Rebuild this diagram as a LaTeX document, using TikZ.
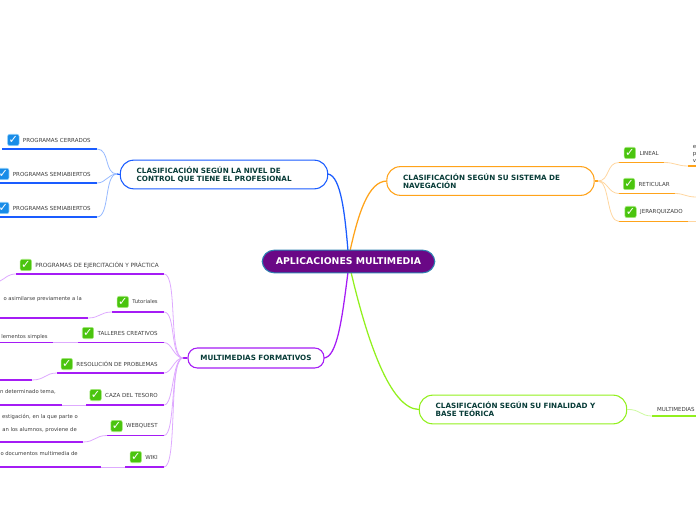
\documentclass[tikz,border=0pt]{standalone}
\usepackage{fontspec}
\setmainfont{DejaVu Sans}
\usetikzlibrary{positioning}
\definecolor{rootpurple}{RGB}{106,8,134}
\definecolor{rootblue}{RGB}{44,128,176}
\definecolor{titlegreen}{RGB}{8,60,56}
\definecolor{leafgrey}{RGB}{60,60,60}
\definecolor{netblue}{RGB}{26,92,255}
\definecolor{softnetblue}{RGB}{150,185,255}
\definecolor{navorange}{RGB}{255,163,26}
\definecolor{softorange}{RGB}{255,214,160}
\definecolor{formpurple}{RGB}{165,28,245}
\definecolor{softpurple}{RGB}{222,170,255}
\definecolor{basegreen}{RGB}{146,240,30}
\definecolor{softgreen}{RGB}{205,250,160}
\definecolor{tickgreen}{RGB}{74,196,14}
\definecolor{tickrim}{RGB}{170,235,130}
\definecolor{tickblue}{RGB}{24,140,232}
\definecolor{tickbluerim}{RGB}{140,205,250}
\tikzset{
  rootbox/.style={draw=rootblue,thick,fill=rootpurple,rounded corners=9pt,text=white,
    font=\fontsize{7}{8.5}\selectfont\bfseries,minimum width=129.5pt,minimum height=17pt,inner sep=0pt},
  branchbox/.style={thick,fill=white,rounded corners=10pt,text=titlegreen,align=left,
    font=\fontsize{5.4}{6.1}\selectfont\bfseries,inner sep=0pt,text width=131pt,
    minimum height=21.5pt},
  branchleft/.style={branchbox,text width=131pt,minimum width=155.5pt},
  leaflabel/.style={text=leafgrey,font=\fontsize{4.15}{5}\selectfont,inner sep=0pt,anchor=east},
  widelabel/.style={leaflabel,font=\fontsize{4.3}{5}\selectfont},
  narrowlabel/.style={leaflabel,font=\fontsize{3.95}{5}\selectfont},
  cuttext/.style={text=leafgrey,font=\fontsize{4.15}{5.3}\selectfont,inner sep=0pt,anchor=west},
  tickbox/.style={rounded corners=1.6pt,minimum size=8.6pt,inner sep=0pt,text=white,line width=.4pt,
    font=\fontsize{8.5}{8.5}\selectfont\bfseries},
  greentick/.style={tickbox,draw=tickrim,fill=tickgreen},
  bluetick/.style={tickbox,draw=tickbluerim,fill=tickblue},
  rule/.style={line width=1.1pt},
  twig/.style={line width=.6pt},
  trunk/.style={line width=.95pt}
}
\begin{document}
\begin{tikzpicture}[x=.75pt,y=-.75pt]
  \useasboundingbox (0,0) rectangle (696,520);
  % links out of the centre
  \coordinate (rootnw) at (348,251);
  \coordinate (rootne) at (350,251);
  \coordinate (rootsw) at (348,272);
  \coordinate (rootse) at (351,272);
  \coordinate (controlin) at (328,174);
  \coordinate (navin) at (387,181);
  \coordinate (formin) at (324,358);
  \coordinate (basein) at (419,409.5);
  \draw[trunk,netblue] (rootnw) .. controls (345,215) and (341,176) .. (controlin);
  \draw[trunk,navorange] (rootne) .. controls (358,215) and (368,181) .. (navin);
  \draw[trunk,formpurple] (rootsw) .. controls (342,320) and (337,357) .. (formin);
  \draw[trunk,basegreen] (rootse) .. controls (367,340) and (390,409) .. (basein);

  \node[rootbox] (root) at (348.5,261.5) {APLICACIONES MULTIMEDIA};
  \node[branchleft,draw=netblue] (control) at (224,174.5)
    {CLASIFICACIÓN SEGÚN LA NIVEL DE\\CONTROL QUE TIENE EL PROFESIONAL};
  \node[branchleft,draw=navorange] (nav) at (490.5,181)
    {CLASIFICACIÓN SEGÚN SU SISTEMA DE\\NAVEGACIÓN};
  \node[branchbox,draw=formpurple,text width=,align=center,minimum width=102pt,minimum height=15pt,rounded corners=7pt] (form) at (256,358)
    {MULTIMEDIAS FORMATIVOS};
  \node[branchleft,draw=basegreen] (base) at (523,409.5)
    {CLASIFICACIÓN SEGÚN SU FINALIDAD Y\\BASE TEÓRICA};

  % control leaves
  \coordinate (controlhub) at (117,174);
  \draw[trunk,netblue] (control.west) -- (controlhub);
  \node[leaflabel] (cerrados) at (91,140) {PROGRAMAS CERRADOS};
  \node[bluetick,left=2.5pt of cerrados] (cerradostick) {✓};
  \node[leaflabel] (semia) at (91,174) {PROGRAMAS SEMIABIERTOS};
  \node[bluetick,left=2.5pt of semia] (semiatick) {✓};
  \node[leaflabel] (semib) at (91,208) {PROGRAMAS SEMIABIERTOS};
  \node[bluetick,left=2.5pt of semib] (semibtick) {✓};
  \coordinate (cerradosL) at (2,149);
  \coordinate (cerradosR) at (97,149);
  \coordinate (semiaL) at (0,183);
  \coordinate (semiaR) at (97,183);
  \coordinate (semibL) at (0,217);
  \coordinate (semibR) at (97,217);
  \draw[rule,netblue] (cerradosL) -- (cerradosR);
  \draw[rule,netblue] (semiaL) -- (semiaR);
  \draw[rule,netblue] (semibL) -- (semibR);
  \draw[twig,softnetblue] (cerradosR) .. controls (110,149) and (104,174) .. (controlhub);
  \draw[twig,softnetblue] (semiaR) .. controls (106,183) and (108,174) .. (controlhub);
  \draw[twig,softnetblue] (semibR) .. controls (110,217) and (104,174) .. (controlhub);

  % navigation leaves
  \coordinate (navhub) at (598,181);
  \draw[trunk,navorange] (nav.east) -- (navhub);
  \node[leaflabel] (lineal) at (659,153) {LINEAL};
  \node[greentick,left=2.5pt of lineal] (linealtick) {✓};
  \node[leaflabel] (reticular) at (670,184) {RETICULAR};
  \node[greentick,left=2.5pt of reticular] (reticulartick) {✓};
  \node[leaflabel] (jerarq) at (683,212) {JERARQUIZADO};
  \node[greentick,left=2.5pt of jerarq] (jerarqtick) {✓};
  \node[cuttext] (linealcut) at (692.5,154) {\begin{tabular}{@{}l@{}}e\\p\\v\end{tabular}};
  \coordinate (linealL) at (619,162.5);
  \coordinate (linealR) at (664,162.5);
  \coordinate (linealnext) at (688,166);
  \coordinate (linealend) at (696,166);
  \coordinate (reticularL) at (619,193.5);
  \coordinate (reticularR) at (675,193.5);
  \coordinate (reticularend) at (696,197);
  \coordinate (jerarqL) at (619,221.5);
  \coordinate (jerarqR) at (688,221.5);
  \coordinate (jerarqend) at (696,221.5);
  \draw[rule,navorange] (linealL) -- (linealR);
  \draw[rule,navorange] (linealnext) -- (linealend);
  \draw[rule,navorange] (reticularL) -- (reticularR);
  \draw[rule,navorange] (jerarqL) -- (jerarqR);
  \draw[twig,softorange] (navhub) .. controls (610,181) and (606,162.5) .. (linealL);
  \draw[twig,softorange] (navhub) .. controls (608,181) and (608,193.5) .. (reticularL);
  \draw[twig,softorange] (navhub) .. controls (610,181) and (606,221.5) .. (jerarqL);
  \draw[twig,softorange] (linealR) .. controls (675,162.5) and (677,166) .. (linealnext);
  \draw[twig,softorange] (reticularR) .. controls (684,193.5) and (686,197) .. (reticularend);
  \draw[twig,softorange] (jerarqR) -- (jerarqend);

  % base leaf
  \node[leaflabel] (multi) at (695,409) {MULTIMEDIAS};
  \coordinate (multiL) at (652,416);
  \coordinate (multiR) at (696,416);
  \draw[rule,basegreen] (multiL) -- (multiR);
  \draw[twig,softgreen] (base.east) .. controls (640,409) and (640,416) .. (multiL);

  % formative leaves
  \coordinate (formhub) at (183,358);
  \draw[trunk,formpurple] (form.west) -- (formhub);
  \node[widelabel] (ejerc) at (159,265) {PROGRAMAS DE EJERCITACIÓN Y PRÁCTICA};
  \node[greentick,left=2.5pt of ejerc] (ejerctick) {✓};
  \node[narrowlabel] (tutor) at (158,302) {Tutoriales};
  \node[greentick,left=2.5pt of tutor] (tutortick) {✓};
  \node[leaflabel] (talleres) at (158,333) {TALLERES CREATIVOS};
  \node[greentick,left=2.5pt of talleres] (tallerestick) {✓};
  \node[leaflabel] (resol) at (158,364) {RESOLUCIÓN DE PROBLEMAS};
  \node[greentick,left=2.5pt of resol] (resoltick) {✓};
  \node[leaflabel] (caza) at (158,395) {CAZA DEL TESORO};
  \node[greentick,left=2.5pt of caza] (cazatick) {✓};
  \node[leaflabel] (webq) at (158,426) {WEBQUEST};
  \node[greentick,left=2.5pt of webq] (webqtick) {✓};
  \node[leaflabel] (wiki) at (158,457) {WIKI};
  \node[greentick,left=2.5pt of wiki] (wikitick) {✓};

  \node[narrowlabel] (tutorcut) at (82,299) {o asimilarse previamente a la};
  \node[narrowlabel] (tallerescut) at (48,337) {lementos simples};
  \node[narrowlabel] (cazacut) at (56,392) {n determinado tema,};
  \node[narrowlabel] (webqcuta) at (78,417) {estigación, en la que parte o};
  \node[narrowlabel] (webqcutb) at (77,430) {an los alumnos, proviene de};
  \node[narrowlabel] (wikicut) at (78,454) {o documentos multimedia de};

  \coordinate (ejercL) at (16,274);
  \coordinate (ejercR) at (164,274);
  \coordinate (ejercend) at (0,281);
  \coordinate (tutorL) at (112,312);
  \coordinate (tutorR) at (164,312);
  \coordinate (tutornext) at (88,318);
  \coordinate (tutorend) at (0,318);
  \coordinate (talleresL) at (78,342.5);
  \coordinate (talleresR) at (164,342.5);
  \coordinate (tallerescutR) at (53,342.5);
  \coordinate (tallerescutL) at (0,342.5);
  \coordinate (resolL) at (57,373);
  \coordinate (resolR) at (164,373);
  \coordinate (resolnext) at (32,380);
  \coordinate (resolend) at (0,380);
  \coordinate (cazaL) at (86,405);
  \coordinate (cazaR) at (164,405);
  \coordinate (cazacutR) at (62,405);
  \coordinate (cazacutL) at (0,405);
  \coordinate (webqL) at (107,435.5);
  \coordinate (webqR) at (164,435.5);
  \coordinate (webqnext) at (83,442);
  \coordinate (webqend) at (0,442);
  \coordinate (wikiL) at (125,467);
  \coordinate (wikiR) at (164,467);
  \coordinate (wikicutR) at (101,467);
  \coordinate (wikicutL) at (0,467);

  \draw[rule,formpurple] (ejercL) -- (ejercR);
  \draw[rule,formpurple] (tutorL) -- (tutorR);
  \draw[rule,formpurple] (tutornext) -- (tutorend);
  \draw[rule,formpurple] (talleresL) -- (talleresR);
  \draw[rule,formpurple] (tallerescutR) -- (tallerescutL);
  \draw[rule,formpurple] (resolL) -- (resolR);
  \draw[rule,formpurple] (resolnext) -- (resolend);
  \draw[rule,formpurple] (cazaL) -- (cazaR);
  \draw[rule,formpurple] (cazacutR) -- (cazacutL);
  \draw[rule,formpurple] (webqL) -- (webqR);
  \draw[rule,formpurple] (webqnext) -- (webqend);
  \draw[rule,formpurple] (wikiL) -- (wikiR);
  \draw[rule,formpurple] (wikicutR) -- (wikicutL);

  \draw[twig,softpurple] (ejercR) .. controls (178,274) and (168,358) .. (formhub);
  \draw[twig,softpurple] (tutorR) .. controls (176,312) and (170,358) .. (formhub);
  \draw[twig,softpurple] (talleresR) .. controls (172,342.5) and (174,358) .. (formhub);
  \draw[twig,softpurple] (resolR) .. controls (172,373) and (174,358) .. (formhub);
  \draw[twig,softpurple] (cazaR) .. controls (174,405) and (172,358) .. (formhub);
  \draw[twig,softpurple] (webqR) .. controls (176,435.5) and (170,358) .. (formhub);
  \draw[twig,softpurple] (wikiR) .. controls (178,467) and (168,358) .. (formhub);
  \draw[twig,softpurple] (ejercL) .. controls (8,274) and (6,278) .. (ejercend);
  \draw[twig,softpurple] (tutorL) .. controls (100,312) and (100,318) .. (tutornext);
  \draw[twig,softpurple] (talleresL) -- (tallerescutR);
  \draw[twig,softpurple] (resolL) .. controls (45,373) and (45,380) .. (resolnext);
  \draw[twig,softpurple] (cazaL) -- (cazacutR);
  \draw[twig,softpurple] (webqL) .. controls (95,435.5) and (95,442) .. (webqnext);
  \draw[twig,softpurple] (wikiL) -- (wikicutR);
\end{tikzpicture}
\end{document}
